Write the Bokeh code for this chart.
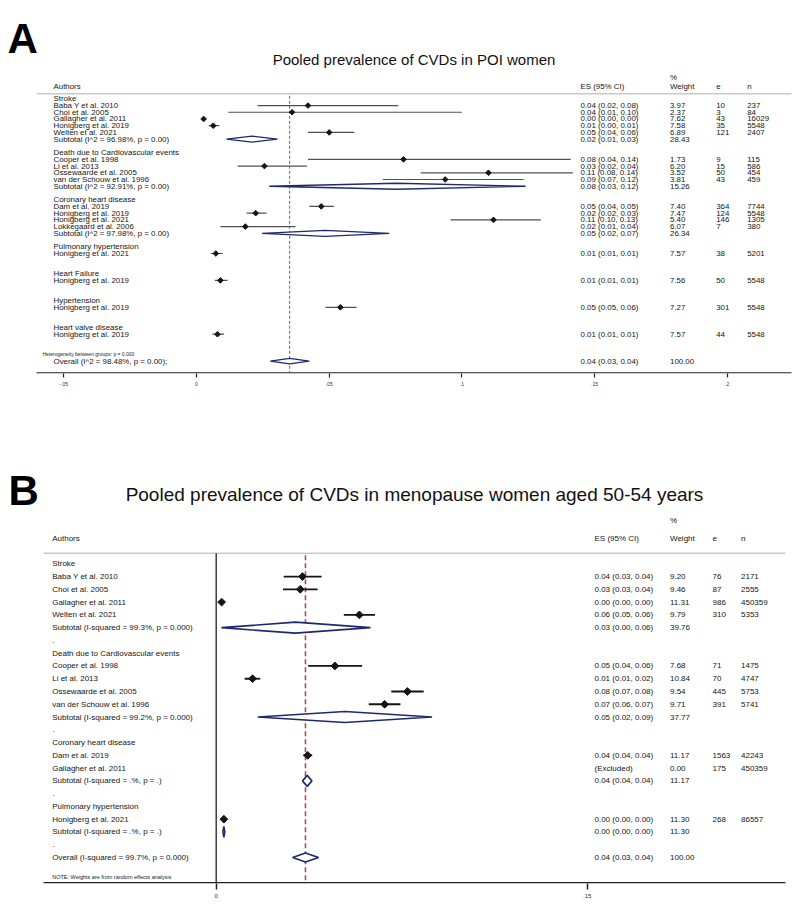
import numpy as np
from bokeh.plotting import figure
from bokeh.models import Range1d, LinearAxis, FixedTicker
from bokeh.layouts import column
from bokeh.embed import file_html
from bokeh.resources import INLINE
from bokeh.core.properties import value

# ======================= DATA : panel A =======================
A_letter = "A"
A_title = "Pooled prevalence of CVDs in POI women"
A_label_text = [
    "Stroke", "Baba Y et al. 2010", "Choi et al. 2005", "Gallagher et al. 2011",
    "Honigberg et al. 2019", "Welten et al. 2021", "Subtotal  (I^2 = 96.98%, p = 0.00)",
    "Death due to Cardiovascular events", "Cooper et al. 1998", "Li et al. 2013",
    "Ossewaarde et al. 2005", "van der Schouw et al. 1996", "Subtotal  (I^2 = 92.91%, p = 0.00)",
    "Coronary heart disease", "Dam et al. 2019", "Honigberg et al. 2019", "Honigberg et al. 2021",
    "Lokkegaard et al. 2006", "Subtotal  (I^2 = 97.98%, p = 0.00)",
    "Pulmonary hypertension", "Honigberg et al. 2021",
    "Heart Failure", "Honigberg et al. 2019",
    "Hypertension", "Honigberg et al. 2019",
    "Heart valve disease", "Honigberg et al. 2019",
    "Overall  (I^2 = 98.48%, p = 0.00);",
]
A_label_row = [0, 1, 2, 3, 4, 5, 6, 8, 9, 10, 11, 12, 13, 15, 16, 17, 18, 19, 20,
               22, 23, 26, 27, 30, 31, 34, 35, 39]

A_study_row = [1, 2, 3, 4, 5, 9, 10, 11, 12, 16, 17, 18, 19, 23, 27, 31, 35]
A_est = [0.042, 0.036, 0.0027, 0.0063, 0.050, 0.078, 0.0256, 0.110, 0.0937,
         0.047, 0.0223, 0.1119, 0.0184, 0.0073, 0.0090, 0.0542, 0.0079]
A_lo = [0.023, 0.012, 0.0025, 0.0046, 0.042, 0.042, 0.0155, 0.0845, 0.0702,
        0.0425, 0.0189, 0.0957, 0.0090, 0.0054, 0.0069, 0.0486, 0.0060]
A_hi = [0.076, 0.100, 0.0029, 0.0086, 0.0595, 0.141, 0.0416, 0.1418, 0.1233,
        0.0518, 0.0264, 0.1297, 0.0373, 0.0100, 0.0117, 0.0603, 0.0104]

A_pool_row = [6, 13, 20, 39]
A_pool_est = [0.0209, 0.0755, 0.0485, 0.0351]
A_pool_lo = [0.0113, 0.0274, 0.0247, 0.0278]
A_pool_hi = [0.0305, 0.1240, 0.0726, 0.0425]

A_es_row = [1, 2, 3, 4, 5, 6, 9, 10, 11, 12, 13, 16, 17, 18, 19, 20, 23, 27, 31, 35, 39]
A_es_text = ["0.04 (0.02, 0.08)", "0.04 (0.01, 0.10)", "0.00 (0.00, 0.00)", "0.01 (0.00, 0.01)",
             "0.05 (0.04, 0.06)", "0.02 (0.01, 0.03)",
             "0.08 (0.04, 0.14)", "0.03 (0.02, 0.04)", "0.11 (0.08, 0.14)", "0.09 (0.07, 0.12)",
             "0.08 (0.03, 0.12)",
             "0.05 (0.04, 0.05)", "0.02 (0.02, 0.03)", "0.11 (0.10, 0.13)", "0.02 (0.01, 0.04)",
             "0.05 (0.02, 0.07)",
             "0.01 (0.01, 0.01)", "0.01 (0.01, 0.01)", "0.05 (0.05, 0.06)", "0.01 (0.01, 0.01)",
             "0.04 (0.03, 0.04)"]
A_weight = ["3.97", "2.37", "7.62", "7.58", "6.89", "28.43", "1.73", "6.20", "3.52", "3.81",
            "15.26", "7.40", "7.47", "5.40", "6.07", "26.34", "7.57", "7.56", "7.27", "7.57",
            "100.00"]
A_e = ["10", "3", "43", "35", "121", "9", "15", "50", "43", "364", "124", "146", "7",
       "38", "50", "301", "44"]
A_n = ["237", "84", "16029", "5548", "2407", "115", "586", "454", "459", "7744", "5548",
       "1305", "380", "5201", "5548", "5548", "5548"]
A_headers = ["Authors", "ES (95% CI)", "%", "Weight", "e", "n"]
A_het_text = "Heterogeneity between groups: p = 0.000"
A_het_row = 38
A_xticks = [-0.05, 0.0, 0.05, 0.10, 0.15, 0.20]
A_xtick_labels = ["-.05", "0", ".05", ".1", ".15", ".2"]

# ======================= DATA : panel B =======================
B_letter = "B"
B_title = "Pooled prevalence of CVDs in menopause women aged 50-54 years"
B_label_text = [
    "Stroke", "Baba Y et al. 2010", "Choi et al. 2005", "Gallagher et al. 2011",
    "Welten et al. 2021", "Subtotal  (I-squared = 99.3%, p = 0.000)", ".",
    "Death due to Cardiovascular events", "Cooper et al. 1998", "Li et al. 2013",
    "Ossewaarde et al. 2005", "van der Schouw et al. 1996",
    "Subtotal  (I-squared = 99.2%, p = 0.000)", ".",
    "Coronary heart disease", "Dam et al. 2019", "Gallagher et al. 2011",
    "Subtotal  (I-squared = .%, p = .)", ".",
    "Pulmonary hypertension", "Honigberg et al. 2021", "Subtotal  (I-squared = .%, p = .)", ".",
    "Overall  (I-squared = 99.7%, p = 0.000)",
]
B_label_row = list(range(24))

B_study_row = [1, 2, 3, 4, 8, 9, 10, 11, 15, 20]
B_est = [0.0349, 0.0340, 0.0022, 0.0579, 0.0480, 0.0147, 0.0773, 0.0681, 0.0370, 0.0031]
B_lo = [0.0273, 0.0270, 0.0021, 0.0516, 0.0372, 0.0115, 0.0708, 0.0617, 0.0352, 0.0027]
B_hi = [0.0426, 0.0410, 0.0023, 0.0642, 0.0590, 0.0178, 0.0839, 0.0745, 0.0388, 0.0035]

B_pool_row = [5, 12, 17, 21, 23]
B_pool_est = [0.0320, 0.0520, 0.0368, 0.0031, 0.0361]
B_pool_lo = [0.0021, 0.0168, 0.0349, 0.0027, 0.0309]
B_pool_hi = [0.0624, 0.0873, 0.0387, 0.0035, 0.0414]

B_es_row = [1, 2, 3, 4, 5, 8, 9, 10, 11, 12, 15, 16, 17, 20, 21, 23]
B_es_text = ["0.04 (0.03, 0.04)", "0.03 (0.03, 0.04)", "0.00 (0.00, 0.00)", "0.06 (0.05, 0.06)",
             "0.03 (0.00, 0.06)",
             "0.05 (0.04, 0.06)", "0.01 (0.01, 0.02)", "0.08 (0.07, 0.08)", "0.07 (0.06, 0.07)",
             "0.05 (0.02, 0.09)",
             "0.04 (0.04, 0.04)", "(Excluded)", "0.04 (0.04, 0.04)",
             "0.00 (0.00, 0.00)", "0.00 (0.00, 0.00)",
             "0.04 (0.03, 0.04)"]
B_weight = ["9.20", "9.46", "11.31", "9.79", "39.76", "7.68", "10.84", "9.54", "9.71", "37.77",
            "11.17", "0.00", "11.17", "11.30", "11.30", "100.00"]
B_en_row = [1, 2, 3, 4, 8, 9, 10, 11, 15, 16, 20]
B_e = ["76", "87", "986", "310", "71", "70", "445", "391", "1563", "175", "268"]
B_n = ["2171", "2555", "450359", "5353", "1475", "4747", "5753", "5741", "42243", "450359",
       "86557"]
B_headers = ["Authors", "ES (95% CI)", "%", "Weight", "e", "n"]
B_note = "NOTE: Weights are from random effects analysis"
B_note_row = 24.55
B_xticks = [0.0, 0.15]
B_xtick_labels = ["0", ".15"]

# ======================= STYLE / LAYOUT =======================
FONT = "Liberation Sans"
INK = "#151515"
NAVY = "#1f2a6e"
W = 799


def build(D, L):
    sx = lambda px: (px - L["zero_px"]) / L["px_per_unit"]
    sy = lambda py: (py - L["row0_px"]) / L["px_per_row"]
    p = figure(width=W, height=L["height"],
               x_range=Range1d(sx(0), sx(W)),
               y_range=Range1d(sy(L["frame_b"]), sy(L["top"])),
               x_axis_type=None, y_axis_type=None, toolbar_location=None,
               output_backend="svg", outline_line_color=None,
               min_border_left=0, min_border_right=0,
               min_border_top=0, min_border_bottom=L["top"] + L["height"] - L["frame_b"],
               background_fill_color="white", border_fill_color="white")

    def txt(xs, ys, texts, size, color=INK, align="left", style="normal", base="middle"):
        p.text(x=xs, y=ys, text=texts, text_font=value(FONT), text_font_size=size,
               text_color=color, text_align=align, text_baseline=base,
               text_font_style=style)

    xl, xr = sx(L["frame_l"]), sx(L["frame_r"])
    # header rule
    p.segment(x0=[xl], x1=[xr], y0=[sy(L["hdr_line"])], y1=[sy(L["hdr_line"])],
              line_color="#c9c9c9", line_width=1.5)
    # axis line (ticks come from the LinearAxis below)
    ya = sy(L["frame_b"] - L["axis_w"] / 2)
    p.segment(x0=[xl], x1=[xr], y0=[ya], y1=[ya], line_color="#222222", line_width=L["axis_w"])
    # zero line (panel B)
    if L.get("zero_line"):
        p.segment(x0=[0.0], x1=[0.0], y0=[sy(L["hdr_line"])], y1=[sy(L["frame_b"])],
                  line_color="#222222", line_width=1.3)
    # reference line at overall estimate
    ref = D["pool_est"][-1]
    p.segment(x0=[ref], x1=[ref], y0=[sy(L["hdr_line"] + 2)], y1=[sy(L["frame_b"])],
              line_color=L["ref_color"], line_width=L["ref_w"], line_dash=L["ref_dash"])

    # study CIs and points
    p.segment(x0=D["lo"], x1=D["hi"], y0=D["row"], y1=D["row"],
              line_color=L["ci_color"], line_width=L["ci_w"])
    p.scatter(x=D["est"], y=D["row"], marker="square", angle=np.pi / 4,
              size=L["pt_size"], color=INK)

    # pooled diamonds
    hh = [L["dia_h"] / L["px_per_row"]] * (len(D["pool_row"]) - 1) + \
         [L["dia_h_overall"] / L["px_per_row"]]
    xs = [[lo, e, hi, e] for lo, e, hi in zip(D["pool_lo"], D["pool_est"], D["pool_hi"])]
    ys = [[r, r - h, r, r + h] for r, h in zip(D["pool_row"], hh)]
    p.patches(xs=xs, ys=ys, fill_color="white", line_color=NAVY, line_width=L["dia_w"])

    # text columns
    fs = L["font"]
    txt(sx(L["auth_x"]), D["label_row"], D["label_text"], fs)
    txt(sx(L["es_x"]), D["es_row"], D["es_text"], fs)
    txt(sx(L["w_x"]), D["es_row"], D["weight"], fs)
    txt(sx(L["e_x"]), D["en_row"], D["e"], fs)
    txt(sx(L["n_x"]), D["en_row"], D["n"], fs)

    # headers
    h = D["headers"]
    hy = sy(L["hdr_y"])
    txt([sx(L["auth_x"]), sx(L["es_x"]), sx(L["w_x"]), sx(L["w_x"]), sx(L["e_x"]), sx(L["n_x"])],
        [hy, hy, sy(L["pct_y"]), hy, hy, hy], h, fs)

    # title
    txt([(xl + xr) / 2], [sy(L["title_y"])], [D["title"]],
        L["title_font"], color="#111111", align="center")

    # small note
    txt([sx(L["note_x"])], [D["note_row"]], [D["note"]], L["note_font"], color="#222222")

    # panel letter
    txt([sx(L["letter_x"])], [sy(L["letter_base"])], [D["letter"]], L["letter_font"],
        color="#000000", style="bold", base="alphabetic")

    # axis (line drawn above; ticks and labels from the axis)
    ax = LinearAxis(ticker=FixedTicker(ticks=D["xticks"], minor_ticks=[]),
                    major_label_overrides={t: s for t, s in zip(D["xticks"], D["xtick_labels"])},
                    axis_line_color=None,
                    major_tick_line_color="#222222", major_tick_line_width=L["axis_w"],
                    major_tick_in=0, major_tick_out=L["tick_out"],
                    minor_tick_line_color=None,
                    major_label_text_font=FONT, major_label_text_font_size=L["tick_font"],
                    major_label_text_color="#333333", major_label_standoff=L["standoff"])
    p.add_layout(ax, "below")
    return p


DA = dict(letter=A_letter, title=A_title, label_text=A_label_text, label_row=A_label_row,
          row=A_study_row, est=A_est, lo=A_lo, hi=A_hi,
          pool_row=A_pool_row, pool_est=A_pool_est, pool_lo=A_pool_lo, pool_hi=A_pool_hi,
          es_row=A_es_row, es_text=A_es_text, weight=A_weight,
          en_row=A_study_row, e=A_e, n=A_n, headers=A_headers,
          note=A_het_text, note_row=A_het_row,
          xticks=A_xticks, xtick_labels=A_xtick_labels)
LA = dict(height=398, top=0, frame_l=36, frame_r=791, frame_b=373,
          zero_px=196.0, px_per_unit=2654.0, row0_px=98.3, px_per_row=6.726,
          hdr_line=93.3, hdr_y=85.5, pct_y=77.0, title_y=59.0,
          letter_x=7, letter_base=38.0,
          auth_x=53, es_x=580, w_x=669.5, e_x=715.7, n_x=746.7, note_x=42,
          font="7.9px", title_font="15px", note_font="5px", letter_font="42px",
          tick_font="5px", tick_out=4, standoff=4, axis_w=1.2,
          ref_color="#b04848", ref_w=1.0, ref_dash="3 2",
          ci_color="#505050", ci_w=1.2, pt_size=4.0,
          dia_h=3.0, dia_h_overall=2.7, dia_w=1.3)

DB = dict(letter=B_letter, title=B_title, label_text=B_label_text, label_row=B_label_row,
          row=B_study_row, est=B_est, lo=B_lo, hi=B_hi,
          pool_row=B_pool_row, pool_est=B_pool_est, pool_lo=B_pool_lo, pool_hi=B_pool_hi,
          es_row=B_es_row, es_text=B_es_text, weight=B_weight,
          en_row=B_en_row, e=B_e, n=B_n, headers=B_headers,
          note=B_note, note_row=B_note_row,
          xticks=B_xticks, xtick_labels=B_xtick_labels)
LB = dict(height=509, top=398, frame_l=43, frame_r=785, frame_b=883,
          zero_px=215.7, px_per_unit=2473.0, row0_px=563.3, px_per_row=12.77,
          hdr_line=552.7, hdr_y=537.7, pct_y=520.0, title_y=494.0,
          letter_x=8, letter_base=490.0,
          auth_x=51.7, es_x=594, w_x=669.5, e_x=712, n_x=740.5, note_x=51.7,
          font="8px", title_font="19px", note_font="5.5px", letter_font="42px",
          tick_font="6px", tick_out=6, standoff=4, axis_w=1.5,
          ref_color="#a8505c", ref_w=1.6, ref_dash="5 3",
          ci_color="#151515", ci_w=1.8, pt_size=5.5,
          dia_h=5.5, dia_h_overall=4.5, dia_w=1.6, zero_line=True)

pA = build(DA, LA)
pB = build(DB, LB)
layout = column(pA, pB, spacing=0)
open("out.html", "w").write(file_html(layout, INLINE))
